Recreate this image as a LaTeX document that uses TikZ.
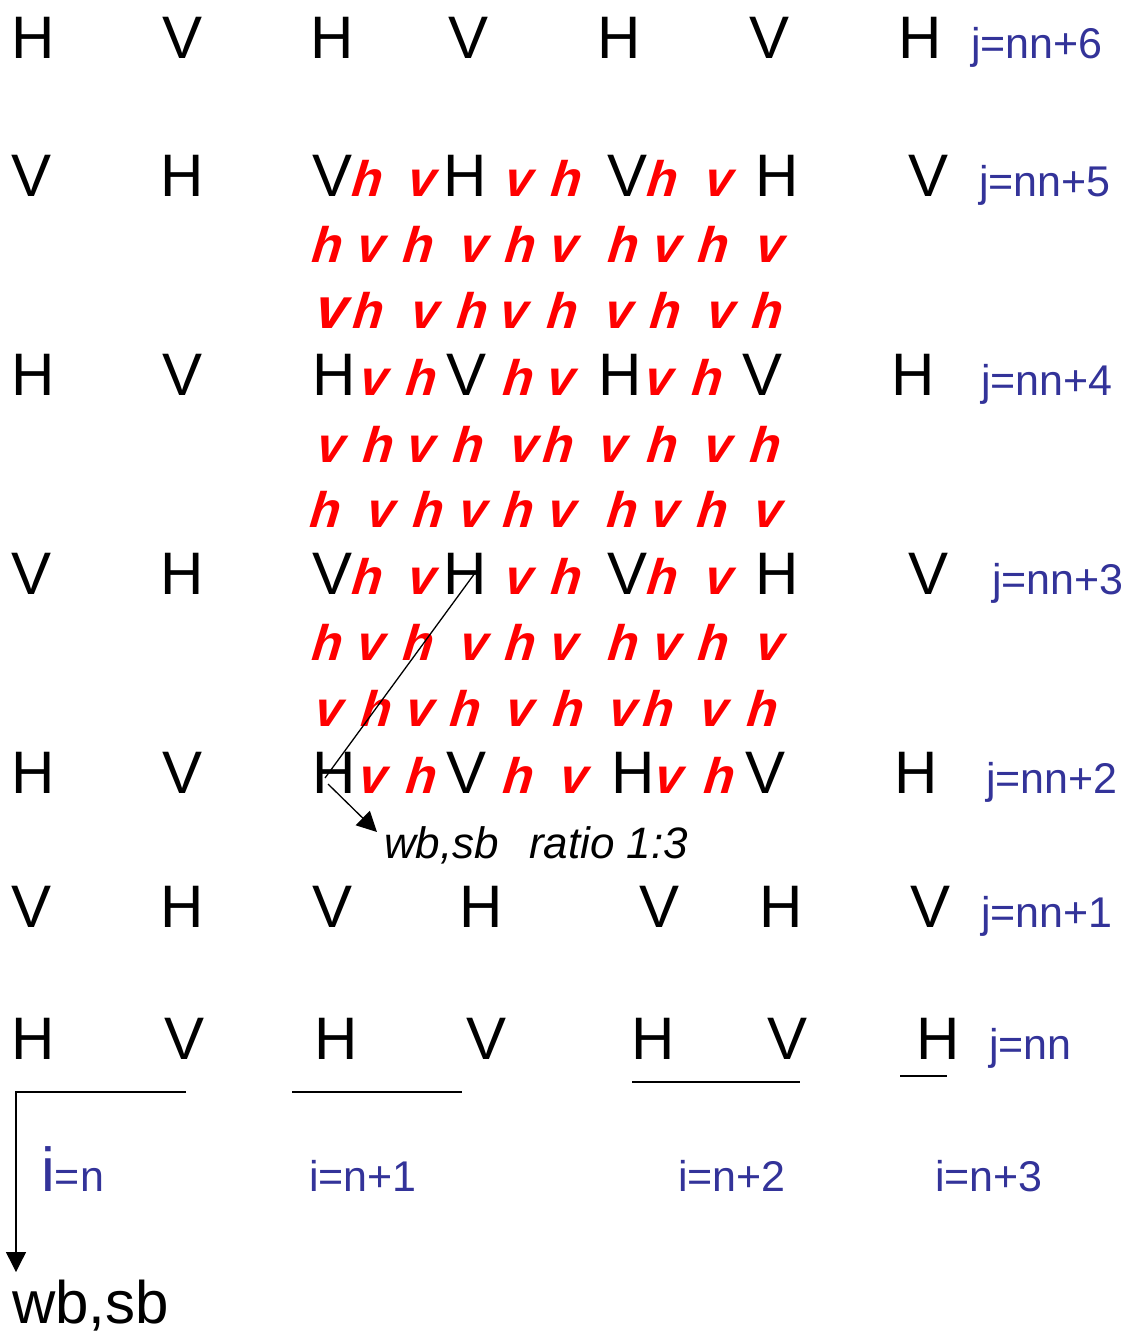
\documentclass[tikz,border=0pt]{standalone}
\usepackage{fontspec}
\setmainfont{Liberation Sans}
\newfontfamily\redfnt[FakeSlant=0.3]{Liberation Sans Bold}
\usetikzlibrary{arrows.meta}
\definecolor{labblue}{RGB}{51,51,153}
\definecolor{redtxt}{RGB}{255,0,0}
\newcommand\placerow[3]{\foreach \x/\t/\s [count=\k] in {#3} {\node[\s] (#1-\k) at (\x,#2) {\t};}}
\tikzset{
  lc/.style={anchor=base, inner sep=0pt, text=black, font=\fontsize{60}{60}\selectfont},
  lr/.style={anchor=base, inner sep=0pt, xshift=-3pt, text=redtxt, font=\fontsize{50}{50}\redfnt},
  lrbig/.style={anchor=base, inner sep=0pt, xshift=-3pt, text=redtxt, font=\fontsize{58}{58}\redfnt},
  lab/.style={anchor=base west, inner sep=0pt, text=labblue, font=\fontsize{43}{43}\selectfont},
  ln/.style={line width=1.4pt, black},
  tip/.style={-{Triangle[length=20pt,width=20pt]}}
}
\begin{document}
\begin{tikzpicture}[x=1pt,y=-1pt]
\useasboundingbox (0,0) rectangle (1126,1341);
% row j=nn+6
\placerow{A}{58}{33/H/lc, 183/V/lc, 332.5/H/lc, 469/V/lc, 619/H/lc, 769/V/lc, 920/H/lc}
% row j=nn+5
\placerow{B}{196}{32/V/lc, 182/H/lc, 332.5/V/lc, 367/h/lr, 421.5/v/lr, 465.5/H/lc, 518/v/lr, 565.5/h/lr, 628/V/lc, 662/h/lr, 718.5/v/lr, 777.5/H/lc, 928/V/lc}
\placerow{R1}{262}{326.5/h/lr, 370.5/v/lr, 418/h/lr, 473.5/v/lr, 519.5/h/lr, 563/v/lr, 623/h/lr, 666.5/v/lr, 713/h/lr, 769.5/v/lr}
\placerow{R2}{328}{331/v/lrbig, 368/h/lr, 424.5/v/lr, 471.5/h/lr, 513.5/v/lr, 561.5/h/lr, 618.5/v/lr, 664.5/h/lr, 720.5/v/lr, 767/h/lr}
% row j=nn+4
\placerow{C}{395}{33/H/lc, 183/V/lc, 334/H/lc, 373.5/v/lr, 420.5/h/lr, 467/V/lc, 518/h/lr, 560.5/v/lr, 620/H/lc, 658.5/v/lr, 706.5/h/lr, 763/V/lc, 913.5/H/lc}
\placerow{R3}{462}{330.5/v/lr, 378/h/lr, 420.5/v/lr, 468/h/lr, 523.5/v/lr, 558/h/lr, 612.5/v/lr, 661.5/h/lr, 717.5/v/lr, 764.5/h/lr}
\placerow{R4}{527}{324.5/h/lr, 380.5/v/lr, 428/h/lr, 472.5/v/lr, 518/h/lr, 561.5/v/lr, 621.5/h/lr, 664.5/v/lr, 711.5/h/lr, 767.5/v/lr}
% row j=nn+3
\placerow{D}{594}{32/V/lc, 182/H/lc, 332.5/V/lc, 367/h/lr, 421.5/v/lr, 465.5/H/lc, 518/v/lr, 565.5/h/lr, 628/V/lc, 662/h/lr, 718.5/v/lr, 777.5/H/lc, 928/V/lc}
\placerow{R5}{660}{326.5/h/lr, 370.5/v/lr, 418/h/lr, 473.5/v/lr, 519.5/h/lr, 563/v/lr, 623/h/lr, 666.5/v/lr, 713/h/lr, 769.5/v/lr}
\placerow{R6}{726}{328.5/v/lr, 375.5/h/lr, 419.5/v/lr, 464.5/h/lr, 519.5/v/lr, 568/h/lr, 622.5/v/lr, 658/h/lr, 713.5/v/lr, 761.5/h/lr}
% row j=nn+2
\placerow{E}{793}{33/H/lc, 183/V/lc, 334/H/lc, 372.5/v/lr, 420.5/h/lr, 467/V/lc, 518/h/lr, 573.5/v/lr, 633.5/H/lc, 668.5/v/lr, 719/h/lr, 765/V/lc, 916/H/lc}
% row j=nn+1
\placerow{F}{927}{32/V/lc, 182/H/lc, 332.5/V/lc, 481.5/H/lc, 660/V/lc, 781/H/lc, 930/V/lc}
% row j=nn
\placerow{G}{1059}{33/H/lc, 185/V/lc, 336/H/lc, 486.5/V/lc, 653/H/lc, 787/V/lc, 938.5/H/lc}

% row labels
\node[lab] (jA) at (971,58) {j=nn+6};
\node[lab] (jB) at (979,196) {j=nn+5};
\node[lab] (jC) at (981,395) {j=nn+4};
\node[lab] (jD) at (992,594) {j=nn+3};
\node[lab] (jE) at (986,793) {j=nn+2};
\node[lab] (jF) at (981,927) {j=nn+1};
\node[lab] (jG) at (989,1059) {j=nn};

% column labels
\node[lab] (iA) at (41,1191) {{\fontsize{62}{62}\selectfont i}=n};
\node[lab] (iB) at (309,1191) {i=n+1};
\node[lab] (iC) at (678,1191) {i=n+2};
\node[lab] (iD) at (935,1191) {i=n+3};

% ratio note
\node[anchor=base west, inner sep=0pt, font=\fontsize{44}{44}\selectfont\itshape] (ratio) at (384,858) {wb,sb\hspace{30pt}ratio 1:3};

% bottom result
\node[anchor=base west, inner sep=0pt, font=\fontsize{60}{60}\selectfont] (wbsb) at (12,1323) {wb,sb};

% underlines
\coordinate (u1a) at (186,1092);
\coordinate (u1b) at (16,1092);
\coordinate (u1c) at (16,1272);
\draw[ln, tip] (u1a) -- (u1b) -- (u1c);
\coordinate (u2a) at (292,1092);
\coordinate (u2b) at (462,1092);
\draw[ln] (u2a) -- (u2b);
\coordinate (u3a) at (632,1082);
\coordinate (u3b) at (800,1082);
\draw[ln] (u3a) -- (u3b);
\coordinate (u4a) at (900,1076);
\coordinate (u4b) at (947,1076);
\draw[ln] (u4a) -- (u4b);

% diagonal arrow
\coordinate (d1) at (475,573);
\coordinate (d2) at (325,778);
\coordinate (d3) at (328,784);
\coordinate (d4) at (377,832);
\draw[line width=1.3pt] (d1) -- (d2);
\draw[line width=1.3pt, tip] (d3) -- (d4);
\end{tikzpicture}
\end{document}
